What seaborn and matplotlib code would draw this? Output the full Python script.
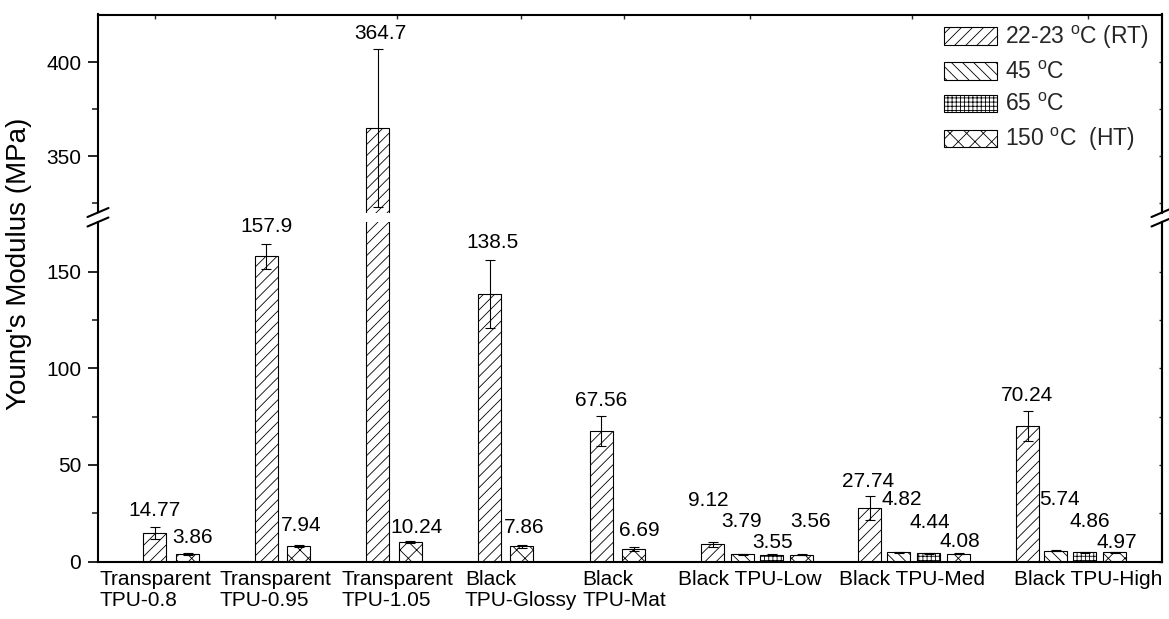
import numpy as np
import pandas as pd
import matplotlib
matplotlib.use("Agg")
import matplotlib.pyplot as plt
from matplotlib.patches import Patch
from matplotlib.lines import Line2D
from matplotlib.ticker import FixedLocator
import seaborn as sns

# ---------------------------------------------------------------- data
groups = ["Transparent\nTPU-0.8", "Transparent\nTPU-0.95", "Transparent\nTPU-1.05",
          "Black\nTPU-Glossy", "Black\nTPU-Mat", "Black TPU-Low", "Black TPU-Med",
          "Black TPU-High"]
series_labels = [r"22-23 $^{\mathregular{o}}$C (RT)", r"45 $^{\mathregular{o}}$C",
                 r"65 $^{\mathregular{o}}$C", r"150 $^{\mathregular{o}}$C  (HT)"]

rt_vals = [14.77, 157.9, 364.7, 138.5, 67.56, 9.12, 27.74, 70.24]
rt_err = [3.0, 6.5, 42.0, 17.5, 7.8, 1.3, 6.0, 7.8]

t45_vals = [3.79, 4.82, 5.74]          # Black TPU-Low / Med / High
t45_err = [0.2, 0.2, 0.2]

t65_vals = [3.55, 4.44, 4.86]          # Black TPU-Low / Med / High
t65_err = [0.3, 0.3, 0.3]

ht_vals = [3.86, 7.94, 10.24, 7.86, 6.69, 3.56, 4.08, 4.97]
ht_err = [0.4, 0.5, 0.5, 0.8, 1.0, 0.3, 0.3, 0.3]

# ---------------------------------------------------------------- layout
W, H = 1169, 619
X_LO, X_HI = 98, 1162                  # horizontal axis span (pixel-like units)
BAR_W = 23
rt_x = [154.5, 266, 377.5, 489.5, 601, 712.5, 869.5, 1027.5]
t45_x = [742.5, 898.5, 1055.5]
t65_x = [771.5, 928.5, 1084.5]
ht_x = [187.5, 298.5, 410, 521.5, 633.5, 801.5, 958.5, 1114.5]
label_x = [155, 275, 397, 521, 624, 750, 912, 1088]

# value-label offsets (pixels) from the top of each bar
rt_off = [(0, 23), (0, 30), (3, 95), (3, 51), (0, 31), (-4, 44), (-1, 27), (0, 30)]
t45_off = [(-1, 33), (3, 53), (4, 51)]
t65_off = [(1, 12), (1, 31), (5, 31)]
ht_off = [(5, 17), (3, 21), (7, 14), (3, 19), (6, 18), (9, 33), (1, 12), (2, 10)]

LOW_LIM = (0, 175.6)
HIGH_LIM = (320.0, 425.3)

sns.set_theme(style="ticks")
plt.rcParams["font.family"] = ["Liberation Sans", "DejaVu Sans"]
plt.rcParams["mathtext.fontset"] = "custom"
plt.rcParams["mathtext.rm"] = "Liberation Sans"
plt.rcParams["hatch.linewidth"] = 0.6
FS = 15

fig = plt.figure(figsize=(W / 100, H / 100), dpi=100)
fig.patch.set_facecolor("white")


def fx(px):
    return px / W


def fy(py):
    return 1 - py / H


ax_lo = fig.add_axes([fx(X_LO), fy(561.7), fx(X_HI) - fx(X_LO), fy(222) - fy(561.7)])
ax_hi = fig.add_axes([fx(X_LO), fy(212.5), fx(X_HI) - fx(X_LO), fy(14.5) - fy(212.5)])

series = [
    (rt_x, rt_vals, rt_err, "///", rt_off),
    (t45_x, t45_vals, t45_err, "\\\\\\", t45_off),
    (t65_x, t65_vals, t65_err, "++++", t65_off),
    (ht_x, ht_vals, ht_err, "xx", ht_off),
]

for ax, lim in ((ax_lo, LOW_LIM), (ax_hi, HIGH_LIM)):
    for xs, vals, errs, hatch, offs in series:
        df = pd.DataFrame({"pos": xs, "value": vals})
        spacing = float(np.min(np.diff(np.sort(xs))))
        sns.barplot(data=df, x="pos", y="value", orient="x", native_scale=True,
                    width=BAR_W / spacing, color="white", saturation=1,
                    edgecolor="black", linewidth=0.8, hatch=hatch,
                    errorbar=None, ax=ax)
        ax.errorbar(xs, vals, yerr=errs, fmt="none", ecolor="black",
                    elinewidth=0.8, capsize=3.5, capthick=0.8, zorder=5)
        for x, v, (dx, dy) in zip(xs, vals, offs):
            if lim[0] <= v <= lim[1]:
                ax.annotate(f"{v:g}", xy=(x, v),
                            xytext=(dx, dy), textcoords="offset pixels",
                            ha="center", va="center", fontsize=FS,
                            color="black", annotation_clip=False)
    ax.set_xlim(X_LO, X_HI)
    ax.set_ylim(*lim)
    ax.set_xlabel("")
    ax.set_ylabel("")
    ax.set_facecolor("white")
    for s in ax.spines.values():
        s.set_linewidth(1.5)
        s.set_color("black")
    ax.tick_params(axis="y", which="major", direction="out", length=7, width=1.2,
                   labelsize=FS, pad=5, colors="black", right=False)
    ax.tick_params(axis="y", which="minor", direction="out", length=4, width=1.2,
                   right=False)

ax_lo.yaxis.set_major_locator(FixedLocator([0, 50, 100, 150]))
ax_lo.yaxis.set_minor_locator(FixedLocator([25, 75, 125]))
ax_hi.yaxis.set_major_locator(FixedLocator([350, 400]))
ax_hi.yaxis.set_minor_locator(FixedLocator([325, 375]))

# small inward ticks along the right-hand spine
for ax, major, minor in ((ax_lo, [0, 50, 100, 150], [25, 75, 125]),
                         (ax_hi, [350, 400], [325, 375])):
    sec = ax.secondary_yaxis("right")
    sec.yaxis.set_major_locator(FixedLocator(major))
    sec.yaxis.set_minor_locator(FixedLocator(minor))
    sec.tick_params(which="both", direction="in", length=2.5, width=1,
                    labelright=False)
    sec.spines["right"].set_linewidth(1.5)

ax_lo.spines["top"].set_visible(False)
ax_hi.spines["bottom"].set_visible(False)

ax_lo.set_xticks(label_x)
ax_lo.set_xticklabels(groups, multialignment="left", fontsize=FS, color="black",
                      linespacing=1.1)
ax_lo.tick_params(axis="x", length=0, pad=6)
ax_hi.set_xticks(label_x)
ax_hi.tick_params(axis="x", bottom=False, labelbottom=False, top=True,
                  direction="in", length=3, width=1)

# axis-break marks on both vertical spines
for xc in (X_LO, X_HI):
    for yc in (212.5, 222):
        fig.add_artist(Line2D([fx(xc - 10.5), fx(xc + 10.5)],
                              [fy(yc + 4.5), fy(yc - 4.5)],
                              color="black", lw=1.5, transform=fig.transFigure))

fig.text(fx(19), fy(264), "Young's Modulus (MPa)", rotation=90,
         ha="center", va="center", fontsize=20, color="black")

handles = [Patch(facecolor="white", edgecolor="black", linewidth=0.8, hatch=h)
           for h in ("///", "\\\\\\", "++++", "xx")]
fig.legend(handles, series_labels, loc="upper left",
           bbox_to_anchor=(fx(944), fy(24)), bbox_transform=fig.transFigure,
           frameon=False, fontsize=16.5, handlelength=2.3, handleheight=0.8,
           handletextpad=0.35, labelspacing=0.42, borderpad=0, borderaxespad=0)

fig.savefig("out.png", dpi=100, facecolor="white")
